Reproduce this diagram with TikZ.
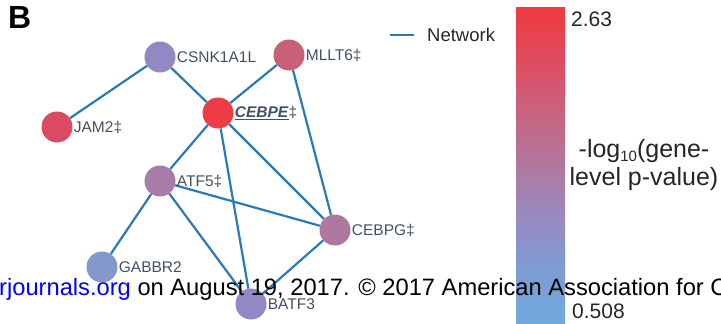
\documentclass[tikz,border=0pt]{standalone}
\usepackage{fontspec}
\setmainfont{Liberation Sans}
\usetikzlibrary{calc}
\usetikzlibrary{positioning}
\usepackage{xcolor}
\definecolor{netblue}{HTML}{2A7AB7}
\definecolor{labgray}{HTML}{44505F}
\definecolor{cCsnk}{HTML}{9189C4}
\definecolor{cMllt}{HTML}{C8607A}
\definecolor{cCebpe}{HTML}{EE3B45}
\definecolor{cJam}{HTML}{DA4A62}
\definecolor{cAtf}{HTML}{A87BA8}
\definecolor{cCebpg}{HTML}{B0779E}
\definecolor{cGabbr}{HTML}{8598CB}
\definecolor{cBatf}{HTML}{9189C6}
\definecolor{cb0}{HTML}{6FAADF}
\definecolor{cb1}{HTML}{7E9CD2}
\definecolor{cb2}{HTML}{978BC2}
\definecolor{cb3}{HTML}{B0789F}
\definecolor{cb4}{HTML}{C9637F}
\definecolor{cb5}{HTML}{DE4C60}
\definecolor{cb6}{HTML}{EF3A3F}
\pgfdeclareverticalshading{pbar}{100bp}{color(0bp)=(cb0); color(25bp)=(cb0);
 color(33.5bp)=(cb1); color(41.5bp)=(cb2); color(50bp)=(cb3);
 color(58.5bp)=(cb4); color(66.5bp)=(cb5); color(75bp)=(cb6); color(100bp)=(cb6)}

\begin{document}
\begin{tikzpicture}[x=1pt,y=-1pt,
 gene/.style={circle, fill=#1, minimum size=31pt, inner sep=0pt},
 glabel/.style={inner sep=1pt, text=labgray, font=\fontsize{15.5}{17}\selectfont},
 edge/.style={netblue, line width=2.2pt}]
\clip (0,0) rectangle (721,324);
\node[anchor=base west, inner sep=0, font=\fontsize{32}{34}\selectfont\bfseries] (panel) at (8,28) {B};
% genes
\node[gene=cCsnk] (csnk) at (160,57) {};
\node[gene=cMllt] (mllt) at (289,55) {};
\node[gene=cCebpe] (cebpe) at (218,113) {};
\node[gene=cJam] (jam) at (57,127) {};
\node[gene=cAtf] (atf) at (160,181) {};
\node[gene=cCebpg] (cebpg) at (335,230) {};
\node[gene=cGabbr] (gabbr) at (102,267) {};
\node[gene=cBatf] (batf) at (251,304) {};
\foreach \a/\b in {csnk/jam,csnk/cebpe,mllt/cebpe,mllt/cebpg,cebpe/atf,cebpe/batf,cebpe/cebpg,atf/gabbr,atf/cebpg,atf/batf,cebpg/batf}
 \draw[edge] (\a)--(\b);
\node[glabel, right=0pt of csnk] (csnkl) {CSNK1A1L};
\node[glabel, right=0pt of mllt] (mlltl) {MLLT6‡};
\node[glabel, right=0pt of cebpe] (cebpel) {\underline{\textbf{\textit{CEBPE}}}‡};
\node[glabel, right=0pt of jam] (jaml) {JAM2‡};
\node[glabel, right=0pt of atf] (atfl) {ATF5‡};
\node[glabel, right=0pt of cebpg] (cebpgl) {CEBPG‡};
\node[glabel, right=0pt of gabbr] (gabbrl) {GABBR2};
\node[glabel, right=0pt of batf] (batfl) {BATF3};
% legend
\coordinate (lg1) at (390,35);
\coordinate (lg2) at (414,35);
\draw[netblue, line width=2pt] (lg1)--(lg2);
\node[anchor=base west, inner sep=0, text=black!85, font=\fontsize{18.5}{20}\selectfont] (lgtxt) at (427,41.5) {Network};
% colour bar
\fill[shading=pbar] (516,7) rectangle (565,324);
\node[anchor=base west, inner sep=0, text=black!85, font=\fontsize{21}{23}\selectfont] (cbmax) at (571,27) {2.63};
\node[anchor=base west, inner sep=0, text=black!85, font=\fontsize{21}{23}\selectfont] (cbmin) at (572,318) {0.508};
\node[anchor=base, inner sep=0, text=black!85, font=\fontsize{25}{28}\selectfont] (ttl1) at (644,157) {-log{\fontsize{15}{16}\selectfont\raisebox{-4pt}{10}}(gene-};
\node[anchor=base, inner sep=0, text=black!85, font=\fontsize{25}{28}\selectfont] (ttl2) at (644,185) {level p-value)};
% watermark
\node[anchor=base west, inner sep=0, font=\fontsize{23.7}{26}\selectfont] (wmark) at (-1,295) {\textcolor{blue}{rjournals.org} on August 19, 2017. © 2017 American Association for C};
\end{tikzpicture}
\end{document}
